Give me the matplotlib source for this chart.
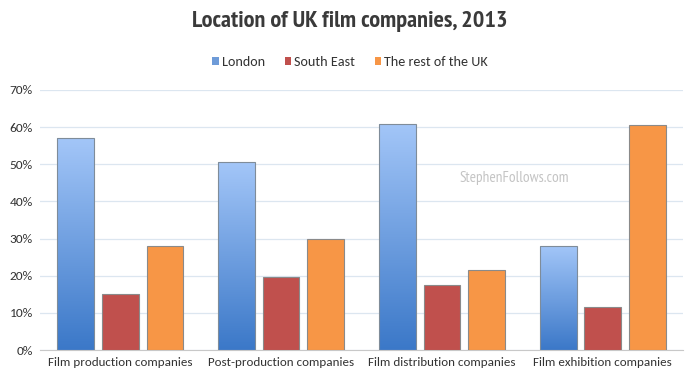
import matplotlib
matplotlib.use('Agg')
import matplotlib.pyplot as plt
import numpy as np
from matplotlib.colors import LinearSegmentedColormap
from matplotlib.patches import Patch
from matplotlib.ticker import PercentFormatter

categories = ["Film production companies", "Post-production companies",
              "Film distribution companies", "Film exhibition companies"]
london = [57.0, 50.5, 60.8, 28.0]
south_east = [15.0, 19.7, 17.6, 11.5]
rest_uk = [28.1, 29.9, 21.5, 60.6]
series_names = ["London", "South East", "The rest of the UK"]

font = ["Carlito", "DejaVu Sans"]
title_font = ["PT Sans Narrow", "DejaVu Sans"]
txt = "#333333"

fig = plt.figure(figsize=(7, 3.89), dpi=100)
ax = fig.add_axes([0.057, 0.100, 0.919, 0.669])

x = np.arange(len(categories))
w = 0.228
step = 0.277
blue_cmap = LinearSegmentedColormap.from_list("lb", ["#3B78C8", "#A3C6F8"])

# London bars get a vertical gradient clipped to the bar shape
bars_l = ax.bar(x - step, london, w, color="none", edgecolor="#7f8c99", linewidth=0.8, zorder=3)
for b in bars_l:
    grad = np.linspace(0, 1, 256).reshape(-1, 1)
    im = ax.imshow(grad, extent=[b.get_x(), b.get_x() + b.get_width(), 0, b.get_height()],
                   origin="lower", aspect="auto", cmap=blue_cmap, zorder=2)
    im.set_clip_path(b)
ax.bar(x, south_east, w, color="#C0504D", edgecolor="#8a8a8a", linewidth=0.8, zorder=3)
ax.bar(x + step, rest_uk, w, color="#F79646", edgecolor="#8a8a8a", linewidth=0.8, zorder=3)

ax.set_xlim(-0.5, len(categories) - 0.5)
ax.set_ylim(0, 70)
ax.set_yticks(range(0, 71, 10))
ax.yaxis.set_major_formatter(PercentFormatter(decimals=0))
ax.set_xticks(x)
ax.set_xticklabels(categories, fontsize=9.4, family=font, color=txt)
for lab in ax.get_yticklabels():
    lab.set_fontsize(9.6)
    lab.set_family(font)
    lab.set_color(txt)
ax.tick_params(length=0, pad=5)
ax.grid(axis="y", color="#dce6f0", linewidth=0.9, zorder=0)
for s in ["top", "right", "left"]:
    ax.spines[s].set_visible(False)
ax.spines["bottom"].set_color("#c8c8c8")

fig.text(0.5, 0.945, "Location of UK film companies, 2013", ha="center", va="center",
         fontsize=17.5, fontweight="bold", family=title_font, color="#3a3a3a")

handles = [Patch(facecolor="#6E9BD8", edgecolor="none"),
           Patch(facecolor="#C0504D", edgecolor="none"),
           Patch(facecolor="#F79646", edgecolor="none")]
fig.legend(handles, series_names, loc="center", bbox_to_anchor=(0.5, 0.84), ncol=3,
           frameon=False, prop={"family": font, "size": 10.2}, handlelength=0.45,
           handleheight=0.45, handletextpad=0.2, columnspacing=1.4, labelcolor=txt)

ax.text(0.737, 0.66, "StephenFollows.com", transform=ax.transAxes, ha="center", va="center",
        fontsize=11, family=title_font, color="#c4c4c4", zorder=4)

fig.savefig("out.png", dpi=100)
